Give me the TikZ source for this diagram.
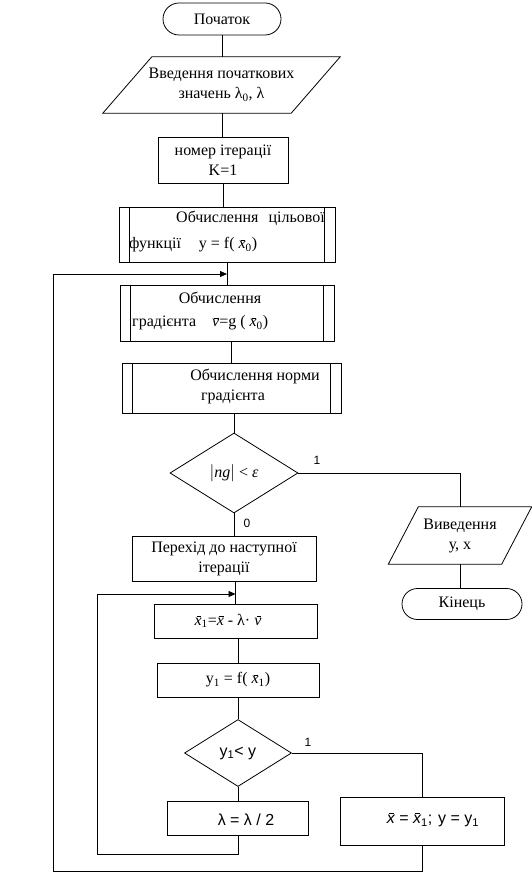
\documentclass[tikz,border=0pt]{standalone}
\usepackage{fontspec}
\setmainfont{Liberation Serif}
\newfontfamily\sansf{Liberation Sans}
\usetikzlibrary{shapes.geometric,shapes.misc,arrows.meta}
\newcommand{\xbr}{\mbox{\itshape\rlap{\kern0.12em\raisebox{1.2ex}{\rule{0.3em}{0.5pt}}}x}}
\newcommand{\nubr}{\mbox{\itshape\rlap{\kern0.14em\raisebox{1.2ex}{\rule{0.3em}{0.5pt}}}ν}}
\begin{document}
\begin{tikzpicture}[x=1pt,y=-1pt,
  font=\fontsize{16}{20}\selectfont,
  ln/.style={draw,line width=0.8pt},
  arr/.style={ln,-{Triangle[length=7pt,width=6pt]}},
  box/.style={draw,line width=0.8pt,rectangle,inner sep=0pt,align=center},
  term/.style={draw,line width=0.8pt,rounded rectangle,inner sep=0pt},
  io/.style={rectangle,inner sep=0pt,align=center},
  dia/.style={draw,line width=0.8pt,diamond,inner sep=0pt},
  txt/.style={inner sep=0pt},
  lbl/.style={inner sep=0pt,font=\sansf\fontsize{12}{14}\selectfont}]
\useasboundingbox (0,0) rectangle (532,877);
% nodes
\node[term,minimum width=118pt,minimum height=32pt] (start) at (222,19) {Початок};
\node[io,minimum width=237pt,minimum height=56pt] (inp) at (221.5,85) {Введення початкових\\значень λ\textsubscript{0}, λ};
\draw[ln] ([xshift=49pt]inp.north west) -- (inp.north east) -- ([xshift=-49pt]inp.south east) -- (inp.south west) -- cycle;
\node[box,minimum width=130pt,minimum height=46pt] (k) at (223,160) {номер ітерації\\K=1};
\node[box,minimum width=216pt,minimum height=55pt] (f) at (227,234.5) {};
\draw[ln] ([xshift=11pt]f.north west) -- ([xshift=11pt]f.south west);
\draw[ln] ([xshift=-11pt]f.north east) -- ([xshift=-11pt]f.south east);
\node[txt,anchor=west] (ft1) at (176,218) {Обчислення\hspace{10pt}цільової};
\node[txt,anchor=west] (ft2) at (129,245) {функції\hspace{18pt}y = f( \xbr\textsubscript{0})};
\node[box,minimum width=214pt,minimum height=56pt] (g) at (227,313) {};
\draw[ln] ([xshift=11pt]g.north west) -- ([xshift=11pt]g.south west);
\draw[ln] ([xshift=-11pt]g.north east) -- ([xshift=-11pt]g.south east);
\node[txt] (gt1) at (220,298) {Обчислення};
\node[txt,anchor=west] (gt2) at (132,323) {градієнта\hspace{16pt}\nubr=g ( \xbr\textsubscript{0})};
\node[box,minimum width=219pt,minimum height=50pt] (n) at (231.5,388) {};
\draw[ln] ([xshift=11pt]n.north west) -- ([xshift=11pt]n.south west);
\draw[ln] ([xshift=-11pt]n.north east) -- ([xshift=-11pt]n.south east);
\node[txt] (nt1) at (255,376) {Обчислення норми};
\node[txt] (nt2) at (233,397) {градієнта};
\node[dia,minimum width=128pt,minimum height=80pt] (d1) at (234,473) {$\left|\mbox{\itshape ng}\right|$ < \textit{ε}};
\node[io,minimum width=143pt,minimum height=57pt] (out) at (460,535.5) {Виведення\\у, х};
\draw[ln] ([xshift=30pt]out.north west) -- (out.north east) -- ([xshift=-30pt]out.south east) -- (out.south west) -- cycle;
\node[term,minimum width=120pt,minimum height=31pt] (end) at (462,604) {Кінець};
\node[box,minimum width=184pt,minimum height=45pt] (p) at (224,558.5) {Перехід до наступної\\ітерації};
\node[box,minimum width=163pt,minimum height=34pt] (x1) at (235.5,621) {};
\node[txt] (x1t) at (228,621) {\xbr\textsubscript{1}=\xbr{} - λ· \nubr};
\node[box,minimum width=162pt,minimum height=34pt] (y1) at (238,680) {y\textsubscript{1} = f( \xbr\textsubscript{1})};
\node[dia,minimum width=107pt,minimum height=67pt] (d2) at (238,753) {\sansf y\textsubscript{1}< y};
\node[box,minimum width=141pt,minimum height=34pt] (lam) at (238,818) {};
\node[txt,font=\sansf\fontsize{16}{20}\selectfont] (lamt) at (246,820) {λ = λ / 2};
\node[box,minimum width=164pt,minimum height=48pt] (r) at (422,821) {};
\node[txt,font=\sansf\fontsize{16}{20}\selectfont] (rt) at (433,820) {\xbr{} = \xbr\textsubscript{1};\hspace{6pt}y = y\textsubscript{1}};
% labels
\node[lbl] (l1) at (317,460) {1};
\node[lbl] (l0) at (247,523) {0};
\node[lbl] (l2) at (308,742) {1};
% coordinates
\coordinate (j1) at (227,274);
\coordinate (j2) at (235.5,594);
\coordinate (c1) at (53,274);
\coordinate (c2) at (97,594);
% connectors
\draw[ln] (start.south) -- (start.south |- inp.north);
\draw[ln] (start.south |- inp.south) -- (start.south |- k.north);
\draw[ln] (k.south) -- (k.south |- f.north);
\draw[ln] (f.south) -- (g.north);
\draw[ln] (g.south -| n.north) -- (n.north);
\draw[ln] (n.south -| d1.north) -- (d1.north);
\draw[ln] (d1.south) -- (d1.south |- p.north);
\draw[ln] (d1.east) -| (out.north);
\draw[ln] (out.south) -- (out.south |- end.north);
\draw[ln] (x1.north |- p.south) -- (x1.north);
\draw[ln] (y1.north |- x1.south) -- (y1.north);
\draw[ln] (y1.south) -- (d2.north);
\draw[ln] (d2.south) -- (lam.north);
\draw[ln] (d2.east) -| (r.north);
\draw[arr] (lam.south) -- (238,854) -| (c2) -- (j2);
\draw[arr] (r.south) -- (422,871) -| (c1) -- (j1);
\end{tikzpicture}
\end{document}
